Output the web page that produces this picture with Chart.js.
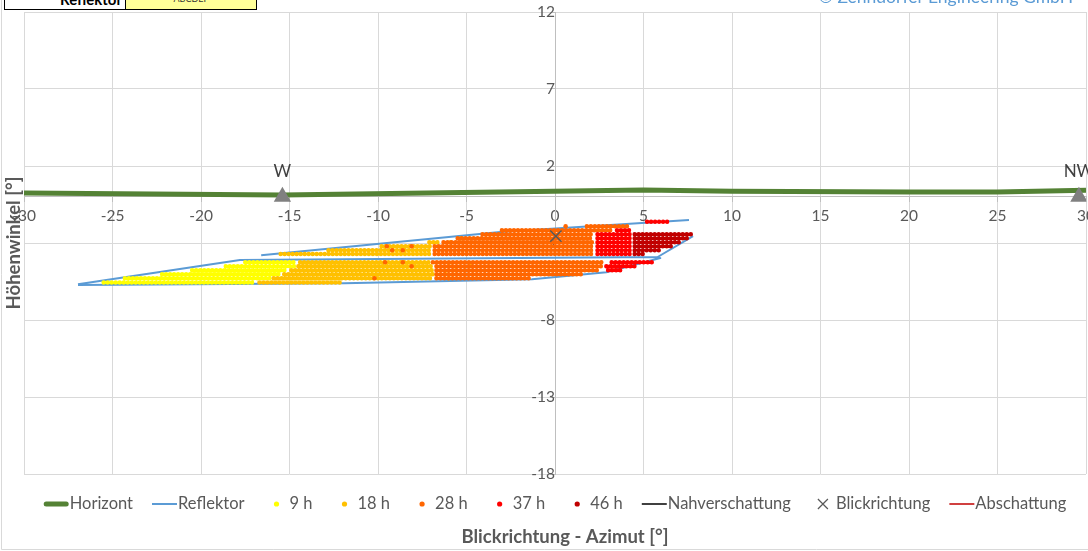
<!DOCTYPE html>
<html><head><meta charset="utf-8">
<script src="https://cdn.jsdelivr.net/npm/chart.js@4.4.1/dist/chart.umd.min.js"></script>
<style>
html,body{margin:0;padding:0;background:#fff;}
#wrap{position:relative;width:1088px;height:551px;overflow:hidden;}
canvas{position:absolute;left:0;top:0;}
.ov{position:absolute;box-sizing:border-box;white-space:nowrap;}
</style></head><body>
<div id="wrap">
<canvas id="c" width="1088" height="551"></canvas>
<div class="ov" style="left:4px;top:-11px;width:122px;height:21px;border:1px solid #000;background:#fff;font:bold 15px Lato,sans-serif;line-height:18px;text-align:right;padding-right:3px;color:#000;">Reflektor</div>
<div class="ov" style="left:125px;top:-11px;width:132px;height:21px;border:1px solid #000;background:#ffff99;font:9px Lato,sans-serif;line-height:17px;text-align:center;color:#333;">ABCDEF</div>
<div class="ov" style="right:15px;top:-13px;font:17.5px Lato,sans-serif;line-height:20px;color:#5b9bd5;">© Zehndorfer Engineering GmbH</div>
</div>
<script>
const FONT = 'Lato, sans-serif';
const TXT = '#595959';

// axis ticks
const xTicks = [-30,-25,-20,-15,-10,-5,0,5,10,15,20,25,30];
const yTicks = [-18,-13,-8,-3,2,7,12];

// horizon line [azimut, elevation]
const horizon = [[-30,0.25],[-15.4,0.12],[5,0.44],[10,0.36],[20,0.31],[25,0.31],[30,0.42]];

// compass markers [azimut, elevation]
const compassPts = [[-15.4,0],[29.6,0]];
const compassLabels = ['W','NW'];

// view direction marker
const viewDir = [[0.05,-2.55]];

// reflector outline polylines
const reflectorLower = [[-26.95,-5.68],[-17.8,-4.10],[5.8,-3.91],[5.95,-3.98],[2.9,-4.90],[-1.3,-5.36],[-11.9,-5.62],[-26.95,-5.72]];
const reflectorUpperTop = [[-16.6,-3.80],[-3.1,-2.28],[7.57,-1.51]];
const reflectorUpperRight = [[5.8,-3.91],[7.8,-2.55]];

// dot rows: [elevation, azimut start, azimut end]
const runs9 = [
  [-5.56,-25.5,-16.9],[-5.29,-24.3,-16.1],[-5.03,-22.2,-15.5],
  [-4.77,-20.5,-15.1],[-4.51,-18.6,-14.7],[-4.25,-17.5,-14.6]
];
const runs18 = [
  [-5.56,-16.7,-12.1],[-5.29,-15.9,-6.9],[-5.03,-15.3,-6.9],
  [-4.77,-14.9,-6.9],[-4.51,-14.5,-6.9],[-4.25,-14.4,-7.1],
  [-3.71,-15.5,-7.0],[-3.47,-12.8,-7.0],[-3.21,-9.8,-7.0],[-2.95,-7.1,-6.5]
];
const runs28 = [
  [-5.29,-6.7,-1.4],[-5.03,-6.7,1.5],[-4.77,-6.7,2.5],[-4.51,-6.7,2.7],[-4.25,-6.9,2.7],
  [-3.71,-6.8,2.2],[-3.47,-6.8,2.2],[-3.21,-6.8,2.2],[-2.95,-6.3,2.2],
  [-2.69,-5.5,2.2],[-2.43,-4.1,2.2],[-2.17,-3.0,3.2],[-1.91,1.8,4.2]
];
const runs37 = [
  [-4.77,3.0,3.8],[-4.51,2.9,4.6],[-4.25,3.2,5.5],
  [-3.71,2.4,4.3],[-3.47,2.4,4.3],[-3.21,2.4,4.3],[-2.95,2.4,4.3],
  [-2.69,2.4,4.3],[-2.43,2.4,4.3],[-2.17,3.5,4.3],[-1.62,5.2,6.4]
];
const runs46 = [
  [-3.71,4.5,5.0],[-3.47,4.5,5.9],[-3.21,4.5,6.6],
  [-2.95,4.5,7.1],[-2.69,4.5,7.5],[-2.43,4.5,7.7]
];
// isolated dots: [azimut, elevation]
const dots9 = [];
const dots18 = [[-6.0,-4.51],[-5.6,-4.77],[-6.2,-5.03],[-4.8,-4.51],[-5.9,-2.95],[-5.3,-2.69],[-6.0,-5.29]];
const dots28 = [[-10.2,-5.29],[-8.6,-4.25],[-8.1,-4.51],[-9.5,-3.21],[-9.2,-3.47],[-8.6,-3.47],[-8.1,-3.21],[-9.6,-4.25],[0.6,-1.91]];
const dots37 = [];
const dots46 = [];

const hourSeries = [
  {label:'9 h',  color:'#ffff00', runs:runs9,  dots:dots9},
  {label:'18 h', color:'#ffc000', runs:runs18, dots:dots18},
  {label:'28 h', color:'#ff6600', runs:runs28, dots:dots28},
  {label:'37 h', color:'#ff0000', runs:runs37, dots:dots37},
  {label:'46 h', color:'#c00000', runs:runs46, dots:dots46}
];

const pts = a => a.map(p => ({x:p[0], y:p[1]}));
function polyData(polys){ const d=[]; polys.forEach(pl=>{ pl.forEach(p=>d.push({x:p[0],y:p[1]})); d.push({x:null,y:null}); }); return d; }
function runData(runs){ const d=[]; runs.forEach(r=>{ d.push({x:r[1],y:r[0]}); d.push({x:r[2],y:r[0]}); d.push({x:null,y:null}); }); return d; }

const datasets = [];
datasets.push({label:'Horizont', data:pts(horizon), showLine:true, borderColor:'#548235', borderWidth:5, pointRadius:0});
datasets.push({label:'Reflektor', data:polyData([reflectorLower, reflectorUpperTop, reflectorUpperRight]), showLine:true, borderColor:'#5b9bd5', borderWidth:2, pointRadius:0, borderJoinStyle:'round'});
hourSeries.forEach(s=>{
  datasets.push({label:s.label, data:runData(s.runs), showLine:true, borderColor:s.color, borderWidth:4.5, borderDash:[0.01,4], borderCapStyle:'round', pointRadius:0});
  datasets.push({label:s.label+' dots', data:pts(s.dots), showLine:false, pointRadius:2.25, backgroundColor:s.color, borderWidth:0});
});
datasets.push({label:'Nahverschattung', data:[], showLine:true, borderColor:'#000000', borderWidth:1.5, pointRadius:0});
datasets.push({label:'Blickrichtung', data:pts(viewDir), showLine:false, pointStyle:'crossRot', pointRadius:8, borderColor:'#595959', borderWidth:1.5});
datasets.push({label:'Abschattung', data:[], showLine:true, borderColor:'#c00000', borderWidth:1.5, pointRadius:0});
datasets.push({label:'Himmelsrichtung', data:pts(compassPts), showLine:false, pointStyle:'triangle', pointRadius:10, backgroundColor:'#808080', borderWidth:0});
const compassIdx = datasets.length-1;
datasets.forEach((d,i)=>{ d.order = datasets.length - i; });

const legendItems = [
  {label:'Horizont', kind:'line', color:'#548235', w:5, cap:'round'},
  {label:'Reflektor', kind:'line', color:'#5b9bd5', w:2},
  {label:'9 h', kind:'dot', color:'#ffff00'},
  {label:'18 h', kind:'dot', color:'#ffc000'},
  {label:'28 h', kind:'dot', color:'#ff6600'},
  {label:'37 h', kind:'dot', color:'#ff0000'},
  {label:'46 h', kind:'dot', color:'#c00000'},
  {label:'Nahverschattung', kind:'line', color:'#000000', w:1.5},
  {label:'Blickrichtung', kind:'cross', color:'#595959'},
  {label:'Abschattung', kind:'line', color:'#c00000', w:1.5}
];

const deco = {
  id:'deco',
  afterDraw(chart){
    const ctx = chart.ctx;
    ctx.save();
    // compass labels
    ctx.font = '17px ' + FONT; ctx.fillStyle = '#404040'; ctx.textAlign='center'; ctx.textBaseline='middle';
    chart.getDatasetMeta(compassIdx).data.forEach((pt,i)=>{ ctx.fillText(compassLabels[i], pt.x, pt.y-25); });
    // axis titles
    ctx.fillStyle = TXT;
    ctx.font = 'bold 18.5px ' + FONT;
    ctx.fillText('Blickrichtung - Azimut [°]', 565, 537);
    ctx.save(); ctx.translate(14, 243); ctx.rotate(-Math.PI/2); ctx.fillText('Höhenwinkel [°]', 0, 0); ctx.restore();
    // legend
    ctx.font = '16.5px ' + FONT; ctx.textAlign='left';
    const box=25, tgap=1, igap=19, ly=504;
    const widths = legendItems.map(it=> box + tgap + ctx.measureText(it.label).width);
    const total = widths.reduce((a,b)=>a+b,0) + igap*(legendItems.length-1);
    let x = (chart.chartArea.left + chart.chartArea.right)/2 - total/2;
    legendItems.forEach((it,i)=>{
      ctx.save();
      if(it.kind==='line'){
        ctx.strokeStyle=it.color; ctx.lineWidth=it.w; ctx.lineCap=it.cap||'butt';
        const o = it.cap==='round'? it.w/2 : 0;
        ctx.beginPath(); ctx.moveTo(x+o, ly); ctx.lineTo(x+box-o, ly); ctx.stroke();
      } else if(it.kind==='dot'){
        ctx.fillStyle=it.color; ctx.beginPath(); ctx.arc(x+13, ly, 2.6, 0, Math.PI*2); ctx.fill();
      } else {
        ctx.strokeStyle=it.color; ctx.lineWidth=1.2; const r=5;
        ctx.beginPath(); ctx.moveTo(x+13-r,ly-r); ctx.lineTo(x+13+r,ly+r); ctx.moveTo(x+13-r,ly+r); ctx.lineTo(x+13+r,ly-r); ctx.stroke();
      }
      ctx.restore();
      ctx.fillStyle=TXT;
      ctx.fillText(it.label, x+box+tgap, ly);
      x += widths[i] + igap;
    });
    // outer border
    ctx.strokeStyle='#d9d9d9'; ctx.lineWidth=1;
    ctx.beginPath(); ctx.moveTo(1.5,0); ctx.lineTo(1.5,549.5); ctx.lineTo(1088,549.5); ctx.stroke();
    ctx.restore();
  }
};

const tickFont = {family:FONT, size:15.5};
new Chart(document.getElementById('c'), {
  type:'scatter',
  data:{datasets},
  options:{
    responsive:false, animation:false, devicePixelRatio:1, events:[],
    layout:{autoPadding:false, padding:{left:24,right:2,top:12,bottom:77}},
    plugins:{legend:{display:false}, tooltip:{enabled:false}},
    scales:{
      x:{type:'linear', min:-30, max:30, position:{y:0}, z:1,
        afterBuildTicks:s=>{ s.ticks = xTicks.map(v=>({value:v})); },
        afterFit:s=>{ s.paddingLeft=0; s.paddingRight=0; },
        grid:{color:'#d9d9d9', drawTicks:true, tickLength:5, tickColor:'#bfbfbf'},
        border:{color:'#bfbfbf', width:1},
        ticks:{font:tickFont, color:TXT, padding:5, maxRotation:0, autoSkip:false, callback:v=>String(v)}
      },
      y:{type:'linear', min:-18, max:12, position:{x:0}, z:1,
        afterBuildTicks:s=>{ s.ticks = yTicks.map(v=>({value:v})); },
        afterFit:s=>{ s.paddingTop=0; s.paddingBottom=0; },
        grid:{color:'#d9d9d9', drawTicks:true, tickLength:5, tickColor:'#bfbfbf'},
        border:{color:'#bfbfbf', width:1},
        ticks:{font:tickFont, color:TXT, padding:5, autoSkip:false, callback:v=>String(v)}
      }
    }
  },
  plugins:[deco]
});
</script>
</body></html>
